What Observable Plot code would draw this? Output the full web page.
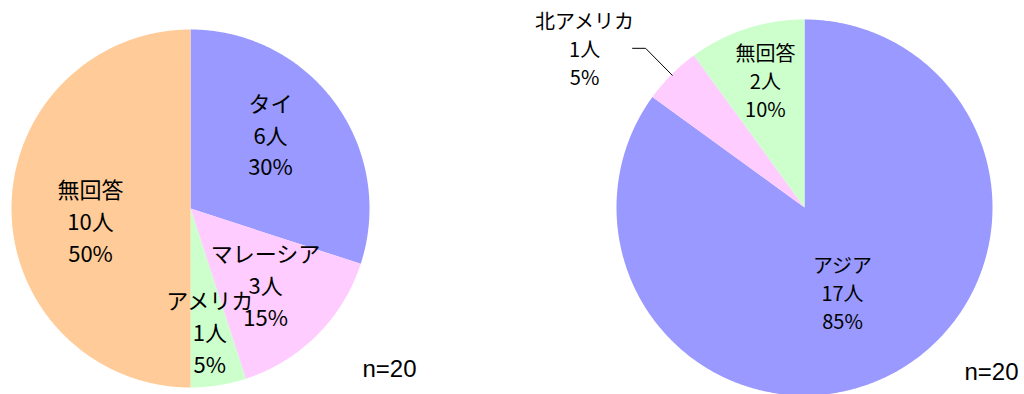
<!DOCTYPE html>
<html><head><meta charset="utf-8">
<script src="https://cdn.jsdelivr.net/npm/d3@7"></script>
<script src="https://cdn.jsdelivr.net/npm/@observablehq/plot@0.6"></script>
<style>
body{margin:0;background:#fff;}
#chart{width:1024px;height:394px;}
</style>
</head><body><div id="chart"></div>
<script>
// ---- Data ----
const leftCategories = ["タイ", "マレーシア", "アメリカ", "無回答"];
const leftCounts = [6, 3, 1, 10];
const rightCategories = ["アジア", "北アメリカ", "無回答"];
const rightCounts = [17, 1, 2];
const sampleSize = 20;
const countUnit = "人";

// ---- Layout / style ----
const W = 1024, H = 394;
const sliceColors = ["#9999FF", "#FFCCFF", "#CCFFCC", "#FFCC99"];
const pies = [
  {id: "L", categories: leftCategories, counts: leftCounts, cx: 190, cy: 208, r: 179,
   fontSize: 22, lineHeight: 1.45,
   labelPos: [[0.613, -7.2], [0.593, 0], [0.69, 0], [0.562, -6.3]],
   nPos: [389, 369]},
  {id: "R", categories: rightCategories, counts: rightCounts, cx: 804, cy: 207, r: 188,
   fontSize: 20, lineHeight: 1.4,
   labelPos: [[0.495, 2.9], [1.444, -9.1], [0.707, 0.9]],
   leader: {1: [48, 61]},
   nPos: [991, 372]}
];

const slices = [], labels = [], leaders = [], nLabels = [];
const colorDomain = [], colorRange = [];
for (const p of pies) {
  const total = d3.sum(p.counts);
  const arcs = d3.pie().sort(null).value(d => d)(p.counts);
  arcs.forEach((a, i) => {
    const key = p.id + ":" + p.categories[i];
    colorDomain.push(key); colorRange.push(sliceColors[i]);
    const pt = (ang, rad) => ({x: p.cx + rad * Math.sin(ang), y: p.cy - rad * Math.cos(ang)});
    slices.push({key, ...pt(0, 0)});
    const n = Math.max(2, Math.ceil((a.endAngle - a.startAngle) / (Math.PI / 360)));
    for (let k = 0; k <= n; k++) {
      const ang = a.startAngle + (a.endAngle - a.startAngle) * k / n;
      slices.push({key, ...pt(ang, p.r)});
    }
    slices.push({key, ...pt(0, 0)});
    const mid = (a.startAngle + a.endAngle) / 2;
    const [rf, dAng] = p.labelPos[i];
    const lp = pt(mid + dAng * Math.PI / 180, rf * p.r);
    const pct = Math.round(100 * p.counts[i] / total) + "%";
    labels.push({x: lp.x, y: lp.y, text: `${p.categories[i]}\n${p.counts[i]}${countUnit}\n${pct}`,
                 fontSize: p.fontSize, lineHeight: p.lineHeight});
    if (p.leader && p.leader[i]) {
      const [d0, d1] = p.leader[i];
      const edge = pt(mid, p.r * 0.995);
      leaders.push({key, x: lp.x + d0, y: lp.y});
      leaders.push({key, x: lp.x + d1, y: lp.y});
      leaders.push({key, x: edge.x, y: edge.y});
    }
  });
  nLabels.push({x: p.nPos[0], y: p.nPos[1], text: `n=${sampleSize}`});
}

const textFont = "'Noto Sans CJK JP', 'Noto Sans', sans-serif";
const marks = [
  Plot.line(slices, {x: "x", y: "y", z: "key", fill: "key", stroke: "none", curve: "linear"}),
  Plot.line(leaders, {x: "x", y: "y", z: "key", stroke: "#000", strokeWidth: 1}),
];
for (const fs of [...new Set(labels.map(d => d.fontSize))]) {
  const sub = labels.filter(d => d.fontSize === fs);
  marks.push(Plot.text(sub, {x: "x", y: "y", text: "text", fontSize: fs, lineHeight: sub[0].lineHeight,
    fontFamily: textFont, fill: "#000", lineAnchor: "middle", textAnchor: "middle"}));
}
marks.push(Plot.text(nLabels, {x: "x", y: "y", text: "text", fontSize: 24,
  fontFamily: "'Liberation Sans', Arial, sans-serif", fill: "#000", textAnchor: "middle"}));

const chart = Plot.plot({
  width: W, height: H,
  margin: 0,
  x: {domain: [0, W], range: [0, W], axis: null},
  y: {domain: [0, H], range: [0, H], axis: null},
  color: {type: "ordinal", domain: colorDomain, range: colorRange},
  style: {background: "#fff", overflow: "visible"},
  marks
});
document.getElementById("chart").appendChild(chart);
</script>
</body></html>
